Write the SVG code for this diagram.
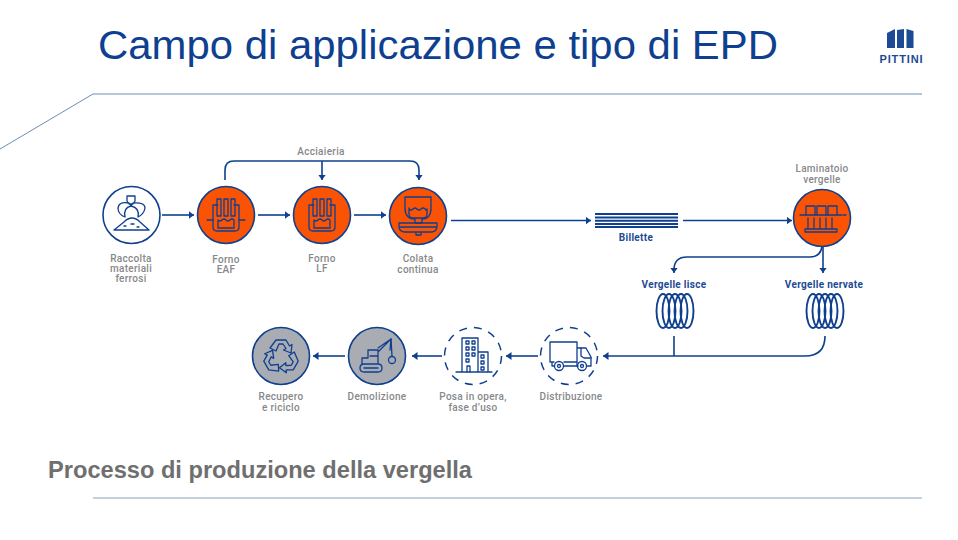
<svg xmlns="http://www.w3.org/2000/svg" width="958" height="540" viewBox="0 0 958 540">
<style>
.t{font-family:Roboto,"Liberation Sans",Arial,sans-serif;font-size:10px;fill:#87888a;text-anchor:middle;letter-spacing:.3px;font-weight:500}
.n{fill:#1c4a94;font-weight:700}
.b{fill:#1c4a94}
.l{fill:none;stroke:#0f3f8f;stroke-width:1.6}
.c{fill:none;stroke:#0f3f8f;stroke-width:1.9}
.i{fill:none;stroke:#0f3f8f;stroke-width:1.3;stroke-linejoin:round;stroke-linecap:round}
.o{fill:#fa5304;stroke:#0f3f8f;stroke-width:1.6}
.g{fill:#a9adb3;stroke:#0f3f8f;stroke-width:1.6}
.w{fill:#fff;stroke:#0f3f8f;stroke-width:1.6}
.d{fill:none;stroke:#0f3f8f;stroke-width:1.5;stroke-dasharray:8 7}
.a{fill:#0f3f8f}
</style>
<defs>
<marker id="ah" markerWidth="8" markerHeight="10" refX="5.500" refY="4" orient="auto" markerUnits="userSpaceOnUse" viewBox="0 0 8 10"><path d="M0 0L5.500 4L0 8Z" class="a"/></marker>
<g id="furn">
<path class="i" d="M-8 -10H-13V12Q-13 16 -9 16H9Q13 16 13 12V-10H8"/>
<path class="i" d="M-8 5Q-6 7 -4 5T0 5T4 5T8 5M-8 5V13H8V5"/>
<path class="i" d="M-9 -16H-5V1H-9ZM-2 -16H2V1H-2ZM5 -16H9V1H5Z"/>
</g>
<path id="blade" class="i" d="M-11 -9L-5 -17H5L8.500 -11L11 -12.500L10 -4L2.500 -7L5 -8.500L2 -13H-2L-5 -6Z"/>
</defs>
<rect width="958" height="540" fill="#fff"/>
<g id="header">
<text x="98" y="59" font-family="'Liberation Sans',Arial,sans-serif" font-size="41" fill="#0f3f8f" textLength="680" lengthAdjust="spacingAndGlyphs">Campo di applicazione e tipo di EPD</text>
<path d="M0 149L93 94H922" fill="none" stroke="#6f8db5" stroke-width="1"/>
<path d="M93 498H922" fill="none" stroke="#8aa0bd" stroke-width="1"/>
<text x="48" y="478" font-family="'Liberation Sans',Arial,sans-serif" font-size="23" font-weight="700" fill="#706f6f" textLength="424" lengthAdjust="spacingAndGlyphs">Processo di produzione della vergella</text>
</g>
<g id="logo">
<path class="b" d="M887 33L895 29V48H887ZM897 30L904 29V48H897ZM906.500 29L913.500 31V48H906.500Z"/>
<text x="901" y="63" font-family="'Liberation Sans',Arial,sans-serif" font-size="11" font-weight="700" fill="#1c4a94" text-anchor="middle" textLength="43">PITTINI</text>
</g>
<g id="connectors">
<path class="l" marker-end="url(#ah)" d="M162 215H194"/>
<path class="l" marker-end="url(#ah)" d="M258 215H290"/>
<path class="l" marker-end="url(#ah)" d="M354 215H386"/>
<path class="l" marker-end="url(#ah)" d="M225 180V170Q225 161 234 161H410Q419 161 419 170V180"/>
<path class="l" marker-end="url(#ah)" d="M322 161V180"/>
<path class="l" marker-end="url(#ah)" d="M451 220.500H591"/>
<path class="l" d="M683 220.500H792" marker-end="url(#ah)"/>
<path class="l" marker-end="url(#ah)" d="M822 247Q820 257 810 257H687Q674 257 674 270V273"/>
<path class="l" marker-end="url(#ah)" d="M823 247V273"/>
<path class="l" d="M674 336V356"/>
<path class="l" marker-end="url(#ah)" d="M825 336Q825 356 805 356H603"/>
<path class="l" marker-end="url(#ah)" d="M538 356H506"/>
<path class="l" marker-end="url(#ah)" d="M442 356H412"/>
<path class="l" marker-end="url(#ah)" d="M345 356H313"/>
</g>
<g id="raccolta">
<circle class="w" cx="131.500" cy="215" r="28.500"/>
<path class="i" d="M114 230L124 222Q132 214 140 222L149 230ZM124 226h2M131 224h3M137 227h2" stroke-width="1.500"/>
<path class="i" d="M127 196H135V201L133 204H129L127 201ZM129 203Q118 201 118 209Q119 215 125 217Q123 208 131 206ZM133 203Q145 202 145 208Q144 214 138 217Q140 208 131 206Z" stroke-width="1.500"/>
<text class="t" x="131" y="262">Raccolta</text><text class="t" x="131" y="272">materiali</text><text class="t" x="131" y="282">ferrosi</text>
</g>
<g id="forno-eaf">
<circle class="o" cx="226" cy="215" r="28.500"/>
<use href="#furn" x="226" y="215"/>
<path class="i" d="M207 220H213M239 220H245" stroke-width="2"/>
<text class="t" x="226" y="263">Forno</text><text class="t" x="226" y="273">EAF</text>
</g>
<g id="forno-lf">
<circle class="o" cx="322" cy="215" r="28.500"/>
<use href="#furn" x="322" y="215"/>
<text class="t" x="322" y="262">Forno</text><text class="t" x="322" y="272">LF</text>
</g>
<g id="colata">
<circle class="o" cx="418" cy="216" r="28.500"/>
<path class="i" d="M405 197H431V208Q431 219 422 219V223H415V219Q405 219 405 208Z"/>
<path class="i" d="M409 209Q411 211 413 209T417 209T421 209T425 209T427 209M409 209V214Q409 218 413 218H423Q427 218 427 214V209M409 208V209"/>
<path class="i" d="M399 223H437V226Q437 232 431 232H405Q399 232 399 226ZM399 227H437M416 232H421V235H416Z"/>
<text class="t" x="418" y="262">Colata</text><text class="t" x="418" y="273">continua</text>
</g>
<g id="acciaieria"><text class="t" x="321" y="155">Acciaieria</text></g>
<g id="billette">
<path d="M595 214H678M595 217.500H678M595 220.800H678M595 224H678M595 227H678" fill="none" stroke="#0f3f8f" stroke-width="1.900"/>
<text class="t n" x="636" y="241">Billette</text>
</g>
<g id="laminatoio">
<circle class="o" cx="822" cy="218" r="28.500"/>
<path class="i" d="M806 215V206H815V215M817 215V206H826V215M828 215V206H837V215"/>
<path class="i" d="M800 215H842M843.500 215H846M808 218V229M814 218V229M820 218V229M826 218V229M832 218V229M805 229H837V232H805Z"/>
<text class="t" x="822" y="172">Laminatoio</text><text class="t" x="822" y="183">vergelle</text>
</g>
<g id="vergelle-lisce">
<text class="t n" x="674" y="288">Vergelle lisce</text>
<g class="c"><ellipse cx="663" cy="311" rx="6.500" ry="17"/><ellipse cx="669" cy="311" rx="6.500" ry="17"/><ellipse cx="675" cy="311" rx="6.500" ry="17"/><ellipse cx="681" cy="311" rx="6.500" ry="17"/><ellipse cx="687" cy="311" rx="6.500" ry="17"/></g>
</g>
<g id="vergelle-nervate">
<text class="t n" x="824" y="288">Vergelle nervate</text>
<g class="c"><ellipse cx="813" cy="311" rx="6.500" ry="17"/><ellipse cx="819" cy="311" rx="6.500" ry="17"/><ellipse cx="825" cy="311" rx="6.500" ry="17"/><ellipse cx="831" cy="311" rx="6.500" ry="17"/><ellipse cx="837" cy="311" rx="6.500" ry="17"/></g>
</g>
<g id="distribuzione">
<circle class="d" cx="569" cy="356" r="28.500"/>
<path class="i" d="M554 362H550V342H577V362H564M577 348H586L591 357V366H587.500M578 366H577V362M554.500 366H552V362" stroke-width="1.500"/>
<path class="i" d="M581 348V356L584 358H591"/>
<path class="i" d="M564 366H577"/>
<circle class="i" cx="559" cy="366" r="4.500"/><circle class="i" cx="559" cy="366" r="1.500"/><circle class="i" cx="582" cy="366" r="4.500"/><circle class="i" cx="582" cy="366" r="1.500"/>
<text class="t" x="571" y="400">Distribuzione</text>
</g>
<g id="posa">
<circle class="d" cx="473" cy="356" r="28.500"/>
<path class="i" d="M456 372H492M462 372V338H478V372M478 352H488V372" stroke-width="1.500"/>
<path class="i" d="M466 341h3v3h-3zM472 341h3v3h-3zM466 347h3v3h-3zM472 347h3v3h-3zM466 353h3v3h-3zM472 353h3v3h-3zM466 359h3v3h-3zM481 355h3v3h-3zM481 361h3v3h-3zM481 367h3v3h-3zM467 372V366H470V372" stroke-width="1"/>
<text class="t" x="473" y="400">Posa in opera,</text><text class="t" x="473" y="411">fase d’uso</text>
</g>
<g id="demolizione">
<circle class="g" cx="377" cy="356" r="28.500"/>
<path class="i" d="M360 368Q360 364 364 364H378Q382 364 382 368Q382 372 378 372H364Q360 372 360 368ZM364 368H378M362 364V358H368V350H378V364M370 356H378M378 352L391 339L390 350M378 348L391 339" stroke-width="1.500"/>
<circle class="i" cx="392" cy="360" r="3.500" stroke-width="1.500"/>
<path class="i" d="M391 339L392 356"/>
<text class="t" x="377" y="400">Demolizione</text>
</g>
<g id="recupero">
<circle class="g" cx="281" cy="356" r="28.500"/>
<use href="#blade" transform="translate(281 357)"/>
<use href="#blade" transform="translate(281 357) rotate(120)"/>
<use href="#blade" transform="translate(281 357) rotate(240)"/>
<text class="t" x="281" y="400">Recupero</text><text class="t" x="281" y="411">e riciclo</text>
</g>
</svg>
